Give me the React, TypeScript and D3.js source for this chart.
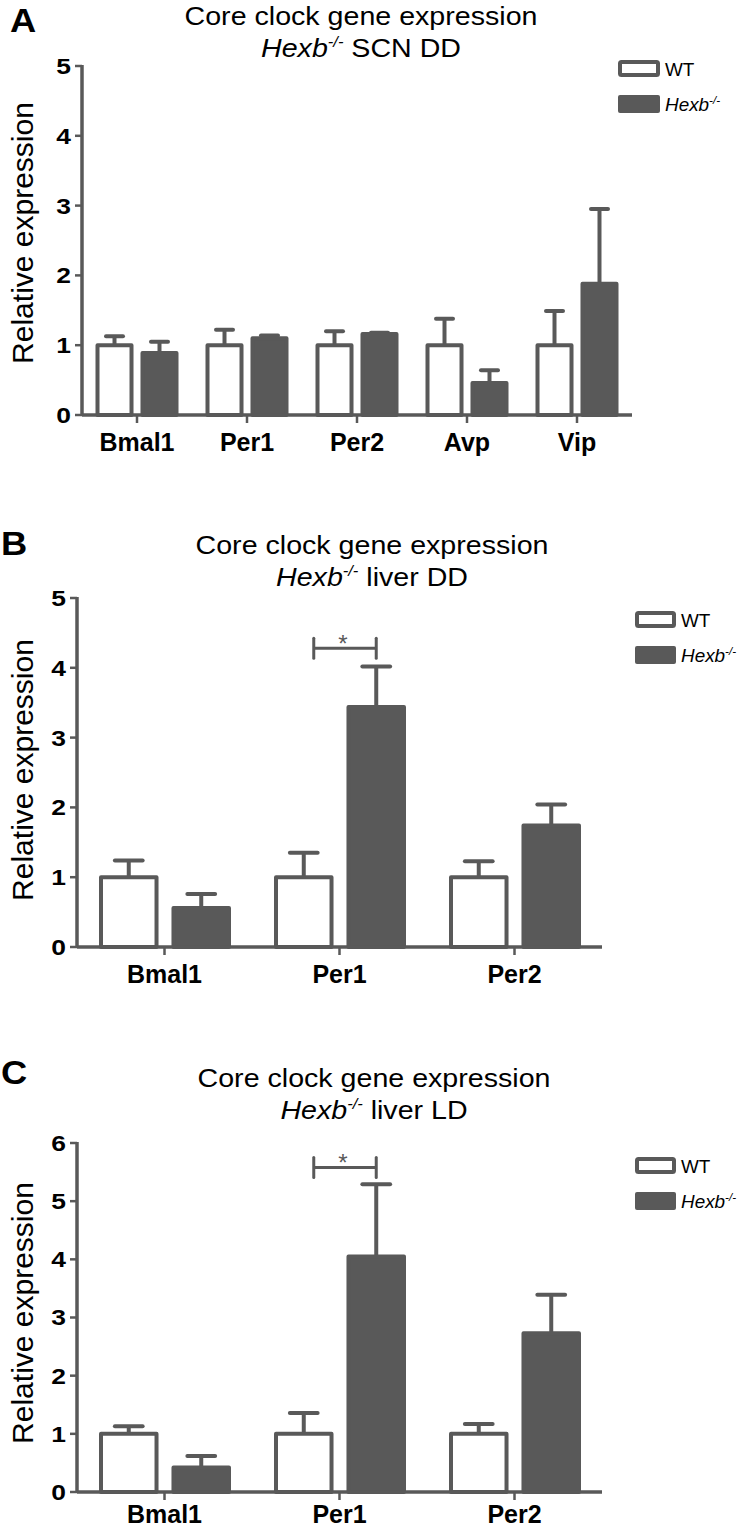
import React from "react";
import * as d3 from "d3";

// ---------------- Data ----------------
const groups = ["WT", "Hexb"];

// Panel A: SCN DD
const catsA = ["Bmal1", "Per1", "Per2", "Avp", "Vip"];
const wtA = [1, 1, 1, 1, 1];
const wtErrA = [0.13, 0.22, 0.2, 0.38, 0.49];
const koA = [0.89, 1.1, 1.16, 0.46, 1.88];
const koErrA = [0.16, 0.04, 0.02, 0.18, 1.07];
const ticksA = [0, 1, 2, 3, 4, 5];

// Panel B: liver DD
const catsB = ["Bmal1", "Per1", "Per2"];
const wtB = [1, 1, 1];
const wtErrB = [0.24, 0.35, 0.23];
const koB = [0.56, 3.44, 1.74];
const koErrB = [0.2, 0.58, 0.3];
const ticksB = [0, 1, 2, 3, 4, 5];
const sigB = [{ cat: "Per1", y: 4.28 }];

// Panel C: liver LD
const catsC = ["Bmal1", "Per1", "Per2"];
const wtC = [1, 1, 1];
const wtErrC = [0.13, 0.36, 0.17];
const koC = [0.42, 4.05, 2.73];
const koErrC = [0.2, 1.24, 0.66];
const ticksC = [0, 1, 2, 3, 4, 5, 6];
const sigC = [{ cat: "Per1", y: 5.58 }];

// ---------------- Styles ----------------
const GREY = "#595959";
const FONT = "'Liberation Sans', Arial, Helvetica, sans-serif";

type TProps = {
  x: number;
  y: number;
  sx?: number;
  rot?: number;
  anchor?: "start" | "middle" | "end";
  size: number;
  weight?: string | number;
  fill?: string;
  dy?: string;
  children?: React.ReactNode;
};

const T = ({ x, y, sx = 1, rot = 0, anchor = "start", size, weight = "normal", fill = "#000", dy, children }: TProps) => (
  <text
    transform={`translate(${x},${y})${rot ? ` rotate(${rot})` : ""} scale(${sx},1)`}
    textAnchor={anchor}
    fontSize={size}
    fontWeight={weight}
    fill={fill}
    stroke="none"
    fontFamily={FONT}
    dy={dy}
  >
    {children}
  </text>
);

type PanelProps = {
  letter: string;
  subtitle: string;
  cats: string[];
  wt: number[];
  wtErr: number[];
  ko: number[];
  koErr: number[];
  ticks: number[];
  sig?: { cat: string; y: number }[];
  left: number;
  right: number;
  top: number;
  bottom: number;
  inner: [number, number];
  titleX: number;
  titleY: number;
  letterY: number;
  letterX: number;
  legendX: number;
  legendY: number;
  legendW: number;
  labelY: number;
  catOffset: number;
};

const Panel = (p: PanelProps) => {
  const x0 = d3.scaleBand<string>().domain(p.cats).range([p.left, p.right]).padding(0);
  const x1 = d3
    .scaleBand<string>()
    .domain(groups)
    .range(p.inner)
    .paddingInner(p.cats.length > 3 ? 0.244 : 0.234);
  const y = d3.scaleLinear().domain([0, d3.max(p.ticks) as number]).range([p.bottom, p.top]);
  const bw = x1.bandwidth();
  const capW = bw * 0.5;

  const series = [
    { g: "WT", vals: p.wt, errs: p.wtErr, fill: "#fff" },
    { g: "Hexb", vals: p.ko, errs: p.koErr, fill: GREY },
  ];

  return (
    <g>
      {/* panel letter */}
      <T x={p.letterX} y={p.letterY} size={33} weight="bold" sx={1.1}>
        {p.letter}
      </T>
      {/* title */}
      <T x={p.titleX} y={p.titleY} size={26} sx={1.1} anchor="middle">
        Core clock gene expression
      </T>
      <T x={p.titleX} y={p.titleY + 32} size={26} sx={1.1} anchor="middle">
        <tspan fontStyle="italic">Hexb</tspan>
        <tspan fontStyle="italic" fontSize={15} dy={-10}>
          -/-
        </tspan>
        <tspan dy={10}>{" " + p.subtitle}</tspan>
      </T>

      {/* y label */}
      <T x={33} y={p.labelY} rot={-90} size={30} anchor="middle">
        Relative expression
      </T>

      {/* error bars */}
      {series.map((s) =>
        p.cats.map((c, i) => {
          const cx = (x0(c) as number) + (x1(s.g) as number) + bw / 2;
          const yt = y(s.vals[i] + s.errs[i]);
          return (
            <g key={s.g + c + "e"} stroke={GREY} strokeWidth={4}>
              <line x1={cx} x2={cx} y1={y(s.vals[i])} y2={yt} />
              <line x1={cx - capW / 2} x2={cx + capW / 2} y1={yt} y2={yt} strokeLinecap="round" />
            </g>
          );
        })
      )}

      {/* bars */}
      {series.map((s) =>
        p.cats.map((c, i) => (
          <rect
            key={s.g + c}
            x={(x0(c) as number) + (x1(s.g) as number)}
            y={y(s.vals[i])}
            width={bw}
            height={p.bottom - y(s.vals[i])}
            fill={s.fill}
            stroke={GREY}
            strokeWidth={4}
            strokeLinejoin="round"
          />
        ))
      )}

      {/* y axis */}
      <line x1={p.left} x2={p.left} y1={p.top - 1} y2={p.bottom} stroke={GREY} strokeWidth={3.5} />
      {p.ticks.map((t) => (
        <g key={"yt" + t}>
          <line x1={p.left - 7} x2={p.left} y1={y(t)} y2={y(t)} stroke={GREY} strokeWidth={2.5} />
          <T x={p.left - 11} y={y(t)} size={22} sx={1.2} weight="bold" anchor="end" dy="0.36em">
            {t}
          </T>
        </g>
      ))}

      {/* x axis */}
      <line x1={p.left} x2={p.right} y1={p.bottom} y2={p.bottom} stroke={GREY} strokeWidth={3.5} />
      {p.cats.map((c) => {
        const cx = (x0(c) as number) + x0.bandwidth() / 2;
        return (
          <g key={"xt" + c}>
            <line x1={cx} x2={cx} y1={p.bottom} y2={p.bottom + 8} stroke={GREY} strokeWidth={2.5} />
            <T x={cx} y={p.bottom + p.catOffset} size={25} weight="bold" anchor="middle">
              {c}
            </T>
          </g>
        );
      })}

      {/* significance */}
      {(p.sig || []).map((s) => {
        const xl = (x0(s.cat) as number) + (x1("WT") as number) + bw / 2 + 10;
        const xr = (x0(s.cat) as number) + (x1("Hexb") as number) + bw / 2;
        const yy = y(s.y);
        return (
          <g key={"sig" + s.cat}>
            <g stroke={GREY} strokeWidth={3}>
              <line x1={xl} x2={xr} y1={yy} y2={yy} />
              <line x1={xl} x2={xl} y1={yy - 10} y2={yy + 10} strokeLinecap="round" />
              <line x1={xr} x2={xr} y1={yy - 10} y2={yy + 10} strokeLinecap="round" />
            </g>
            <T x={(xl + xr) / 2 - 2} y={yy + 4} size={24} anchor="middle" fill={GREY}>
              *
            </T>
          </g>
        );
      })}

      {/* legend */}
      <g>
        <rect
          x={p.legendX + 2}
          y={p.legendY + 2}
          width={p.legendW - 4}
          height={13}
          fill="#fff"
          stroke={GREY}
          strokeWidth={4}
          rx={1.5}
        />
        <T x={p.legendX + p.legendW + 5} y={p.legendY + 16} size={18} sx={1.05}>
          WT
        </T>
        <rect x={p.legendX} y={p.legendY + 35} width={p.legendW} height={18} fill={GREY} rx={2} />
        <T x={p.legendX + p.legendW + 5} y={p.legendY + 51} size={18} sx={1.05}>
          <tspan fontStyle="italic">Hexb</tspan>
          <tspan fontStyle="italic" fontSize={11} dy={-7}>
            -/-
          </tspan>
        </T>
      </g>
    </g>
  );
};

export default function App() {
  return (
    <svg width={746} height={1529} style={{ position: "absolute", left: 0, top: 0, background: "#fff" }}>
      <rect width={746} height={1529} fill="#fff" />
      <Panel
        letter="A"
        subtitle="SCN DD"
        cats={catsA}
        wt={wtA}
        wtErr={wtErrA}
        ko={koA}
        koErr={koErrA}
        ticks={ticksA}
        left={82}
        right={632}
        top={66}
        bottom={415}
        inner={[15.5, 94.5]}
        titleX={361}
        titleY={25}
        letterX={10}
        letterY={32}
        legendX={618}
        legendY={60}
        legendW={42}
        labelY={233}
        catOffset={36}
      />
      <Panel
        letter="B"
        subtitle="liver DD"
        cats={catsB}
        wt={wtB}
        wtErr={wtErrB}
        ko={koB}
        koErr={koErrB}
        ticks={ticksB}
        sig={sigB}
        left={77}
        right={602}
        top={598}
        bottom={947}
        inner={[24, 152]}
        titleX={372}
        titleY={554}
        letterX={1}
        letterY={555}
        legendX={635}
        legendY={611}
        legendW={41}
        labelY={770}
        catOffset={36}
      />
      <Panel
        letter="C"
        subtitle="liver LD"
        cats={catsC}
        wt={wtC}
        wtErr={wtErrC}
        ko={koC}
        koErr={koErrC}
        ticks={ticksC}
        sig={sigC}
        left={77}
        right={602}
        top={1143}
        bottom={1492}
        inner={[24, 152]}
        titleX={374}
        titleY={1087}
        letterX={1}
        letterY={1084}
        legendX={635}
        legendY={1157}
        legendW={41}
        labelY={1313}
        catOffset={31}
      />
    </svg>
  );
}
